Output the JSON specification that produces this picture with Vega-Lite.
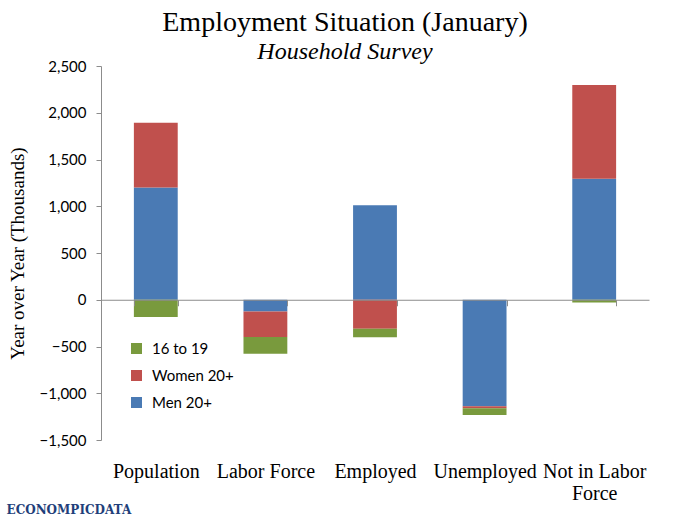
{
  "$schema": "https://vega.github.io/schema/vega-lite/v6.json",
  "width": 548,
  "height": 374,
  "autosize": "none",
  "padding": {"left": 101, "top": 66, "right": 38, "bottom": 83},
  "background": "white",
  "title": {
    "text": "Employment Situation (January)",
    "subtitle": "Household Survey",
    "font": "Liberation Serif",
    "fontSize": 28,
    "fontWeight": "normal",
    "subtitleFont": "Liberation Serif",
    "subtitleFontSize": 24,
    "subtitleFontStyle": "italic",
    "subtitleColor": "black",
    "subtitlePadding": 3,
    "color": "black",
    "anchor": "middle",
    "dx": -30,
    "offset": -5
  },
  "config": {
    "view": {"stroke": null},
    "axis": {"grid": false}
  },
  "data": {
    "values": [
      {"category": "Population", "group": "Men 20+", "order": 1, "value": 1200},
      {"category": "Population", "group": "Women 20+", "order": 2, "value": 694},
      {"category": "Population", "group": "16 to 19", "order": 3, "value": -185},
      {"category": "Labor Force", "group": "Men 20+", "order": 1, "value": -125},
      {"category": "Labor Force", "group": "Women 20+", "order": 2, "value": -274},
      {"category": "Labor Force", "group": "16 to 19", "order": 3, "value": -178},
      {"category": "Employed", "group": "Men 20+", "order": 1, "value": 1011},
      {"category": "Employed", "group": "Women 20+", "order": 2, "value": -310},
      {"category": "Employed", "group": "16 to 19", "order": 3, "value": -92},
      {"category": "Unemployed", "group": "Men 20+", "order": 1, "value": -1140},
      {"category": "Unemployed", "group": "Women 20+", "order": 2, "value": -20},
      {"category": "Unemployed", "group": "16 to 19", "order": 3, "value": -72},
      {"category": "Not in Labor Force", "group": "Men 20+", "order": 1, "value": 1293},
      {"category": "Not in Labor Force", "group": "Women 20+", "order": 2, "value": 1004},
      {"category": "Not in Labor Force", "group": "16 to 19", "order": 3, "value": -29}
    ]
  },
  "mark": {"type": "bar"},
  "encoding": {
    "x": {
      "field": "category",
      "type": "nominal",
      "sort": null,
      "scale": {"paddingInner": 0.6, "paddingOuter": 0.3},
      "axis": {
        "title": "ECONOMPICDATA",
        "titleFont": "DejaVu Serif",
        "titleFontSize": 12,
        "titleFontWeight": "bold",
        "titleColor": "#1f3f7a",
        "titleAnchor": "start",
        "titleX": -95,
        "titleY": 205,
        "offset": -140.25,
        "zindex": 1,
        "domainColor": "#8c8c8c",
        "tickColor": "#8c8c8c",
        "tickSize": 6,
        "tickBand": "extent",
        "labelAngle": 0,
        "labelPadding": 156,
        "labelFont": "Liberation Serif",
        "labelFontSize": 20,
        "labelColor": "black",
        "labelLineHeight": 22,
        "labelBaseline": "top",
        "labelExpr": "datum.label == 'Not in Labor Force' ? ['Not in Labor', 'Force'] : datum.label"
      }
    },
    "y": {
      "field": "value",
      "type": "quantitative",
      "stack": "zero",
      "scale": {"domain": [-1500, 2500], "nice": false},
      "axis": {
        "title": "Year over Year (Thousands)",
        "titleFont": "Liberation Serif",
        "titleFontSize": 19,
        "titleFontWeight": "normal",
        "titleColor": "black",
        "titlePadding": 12,
        "values": [-1500, -1000, -500, 0, 500, 1000, 1500, 2000, 2500],
        "format": ",.0f",
        "labelFont": "Lato",
        "labelFontSize": 15,
        "labelColor": "black",
        "labelPadding": 10,
        "tickSize": 5,
        "domainColor": "#8c8c8c",
        "tickColor": "#8c8c8c"
      }
    },
    "color": {
      "field": "group",
      "type": "nominal",
      "scale": {
        "domain": ["Men 20+", "Women 20+", "16 to 19"],
        "range": ["#4a7ab4", "#c0504d", "#799a3d"]
      },
      "legend": {
        "title": null,
        "orient": "none",
        "legendX": 28,
        "legendY": 275,
        "values": ["16 to 19", "Women 20+", "Men 20+"],
        "symbolType": "square",
        "symbolSize": 121,
        "symbolStrokeWidth": 0,
        "rowPadding": 11,
        "labelFont": "Lato",
        "labelFontSize": 15,
        "labelColor": "black",
        "labelOffset": 8
      }
    },
    "order": {"field": "order", "type": "quantitative"}
  }
}
